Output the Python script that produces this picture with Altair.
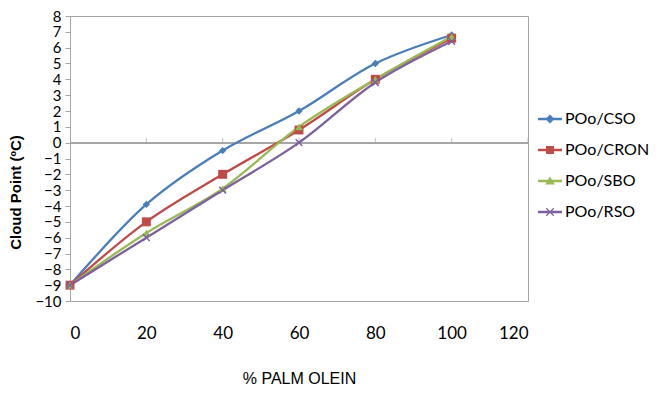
import altair as alt
import pandas as pd

pct = [0, 20, 40, 60, 80, 100]
series = ["POo/CSO", "POo/CRON", "POo/SBO", "POo/RSO"]
cso = [-9.0, -3.9, -0.5, 2.0, 5.0, 6.8]
cron = [-9.0, -5.0, -2.0, 0.8, 4.0, 6.6]
sbo = [-9.0, -5.7, -2.9, 1.0, 4.0, 6.7]
rso = [-9.0, -6.0, -3.0, 0.0, 3.8, 6.4]
x_ticks = [0, 20, 40, 60, 80, 100, 120]
y_ticks = list(range(-10, 9))
colors = ["#4A7EBB", "#BE4B48", "#98B954", "#7D60A0"]

marker_shapes = ["diamond", "square", "triangle-up", "M-1,-1L1,1M-1,1L1,-1"]
marker_sizes = [55, 80, 60, 45]
marker_filled = [True, True, True, False]

line_bar = "M-1,-0.1H1V0.1H-1Z"
legend_paths = [
    line_bar + "M0,-0.38L0.38,0L0,0.38L-0.38,0Z",
    line_bar + "M-0.33,-0.33H0.33V0.33H-0.33Z",
    line_bar + "M0,-0.38L0.4,0.3H-0.4Z",
    line_bar + "M-0.35,-0.28L-0.28,-0.35L0.35,0.28L0.28,0.35Z"
    + "M-0.35,0.28L0.28,-0.35L0.35,-0.28L-0.28,0.35Z",
]

values = [cso, cron, sbo, rso]
rows = []
for s, vals in zip(series, values):
    for x, y in zip(pct, vals):
        rows.append({"pct": x, "cp": y, "series": s})
df = pd.DataFrame(rows)
tick_df = pd.DataFrame({"t": x_ticks[1:]})

color_scale = alt.Scale(domain=series, range=colors)
x_scale = alt.Scale(domain=[0, 120], nice=False)
y_scale = alt.Scale(domain=[-10, 8], nice=False, zero=False)
x_axis = alt.Axis(
    values=x_ticks, grid=False, domain=False, ticks=False,
    labelPadding=24, labelFont="Lato", labelFontSize=17, labelColor="black",
    title="% PALM OLEIN", titleFont="Liberation Sans", titleFontSize=16,
    titleFontWeight="normal", titleColor="black",
    titleY=77, titleBaseline="middle",
)
y_axis = alt.Axis(
    values=y_ticks, grid=False, domainColor="#A6A6A6", tickColor="#A6A6A6",
    tickSize=5, labelFont="Lato", labelFontSize=15, labelColor="black",
    labelPadding=4, labelOverlap=False,
    title="Cloud Point (ºC)", titleFont="Liberation Sans", titleFontSize=15,
    titleFontWeight="bold", titleColor="black", titleAngle=-90,
    titleX=-55, titleY=176, titleAlign="center", titleBaseline="middle",
)
x_enc = alt.X("pct:Q", scale=x_scale, axis=x_axis)
y_enc = alt.Y("cp:Q", scale=y_scale, axis=y_axis)

base = alt.Chart(df)

zero_line = base.mark_rule(color="#A6A6A6", strokeWidth=1).encode(
    y=alt.Y(datum=0, scale=y_scale, axis=y_axis)
)
zero_ticks = alt.Chart(tick_df).mark_tick(
    color="#A6A6A6", size=5, thickness=1, orient="vertical", yOffset=-2.5
).encode(x=alt.X("t:Q", scale=x_scale, axis=x_axis),
         y=alt.Y(datum=0, scale=y_scale, axis=y_axis))

line_layers = []
point_layers = []
for s, shp, sz, fl, c in zip(series, marker_shapes, marker_sizes, marker_filled, colors):
    sub = base.transform_filter(alt.datum.series == s)
    line_layers.append(
        sub.mark_line(strokeWidth=2.3, interpolate="catmull-rom", color=c)
        .encode(x=x_enc, y=y_enc)
    )
    point_layers.append(
        sub.mark_point(shape=shp, size=sz, filled=fl, color=c, opacity=1,
                       strokeWidth=1.5)
        .encode(x=x_enc, y=y_enc)
    )

legend_layer = base.transform_filter("false").mark_point(filled=True, opacity=1).encode(
    x=x_enc, y=y_enc,
    color=alt.Color("series:N", scale=color_scale,
                    legend=alt.Legend(title=None)),
    shape=alt.Shape("series:N", scale=alt.Scale(domain=series, range=legend_paths),
                    legend=alt.Legend(title=None)),
)

chart = alt.layer(zero_line, zero_ticks, *line_layers, *point_layers, legend_layer).properties(
    width=458, height=285,
    autosize=alt.AutoSizeParams(type="none"),
    padding={"left": 62, "top": 8, "right": 122, "bottom": 84},
).configure_view(
    stroke="#A6A6A6", strokeWidth=1
).configure_legend(
    orient="none", legendX=468, legendY=91,
    symbolSize=576, symbolStrokeWidth=0, symbolOpacity=1,
    labelFont="Lato", labelFontSize=16, labelColor="black",
    labelOffset=3, rowPadding=11,
)

chart.save("out.html", embed_options={"renderer": "svg", "actions": False})
